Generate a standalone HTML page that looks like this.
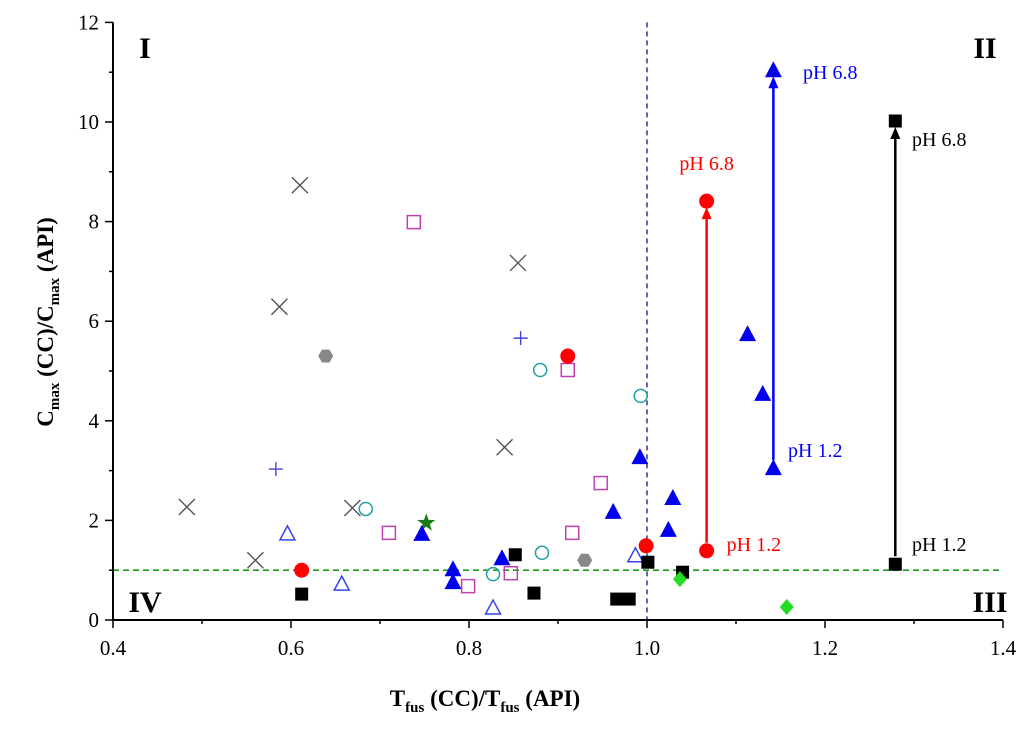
<!DOCTYPE html>
<html><head><meta charset="utf-8"><style>
body{margin:0;background:#fff}
svg text{font-family:"Liberation Serif",serif}
</style></head><body>
<svg id="c" width="1024" height="732"></svg>
<script>
const xTicks=[0.4,0.6,0.8,1.0,1.2,1.4];
const xTickLabels=["0.4","0.6","0.8","1.0","1.2","1.4"];
const yTicks=[0,2,4,6,8,10,12];
const crossX=[0.483,0.587,0.61,0.669,0.56,0.855,0.84];
const crossY=[2.27,6.29,8.73,2.25,1.2,7.17,3.47];
const plusX=[0.583,0.858];
const plusY=[3.03,5.66];
const hexX=[0.639,0.93];
const hexY=[5.3,1.2];
const openSqX=[0.738,0.71,0.911,0.948,0.916,0.799,0.847];
const openSqY=[7.99,1.75,5.02,2.75,1.75,0.68,0.94];
const openCircX=[0.684,0.88,0.993,0.882,0.827];
const openCircY=[2.23,5.02,4.5,1.35,0.92];
const openTriX=[0.596,0.657,0.827,0.987];
const openTriY=[1.73,0.72,0.24,1.29];
const starX=[0.752];
const starY=[1.95];
const redX=[0.612,0.911,0.999,1.067,1.067];
const redY=[1.0,5.3,1.49,1.39,8.41];
const triX=[0.747,0.782,0.782,0.837,0.962,0.992,1.029,1.024,1.113,1.130,1.142,1.142];
const triY=[1.73,1.02,0.76,1.24,2.17,3.27,2.45,1.81,5.74,4.54,3.05,11.04];
const sqX=[0.612,0.852,0.873,0.966,0.98,1.001,1.04,1.279,1.279];
const sqY=[0.52,1.31,0.54,0.42,0.42,1.16,0.96,10.02,1.12];
const diaX=[1.037,1.157];
const diaY=[0.82,0.26];
const arrows=[{x:1.067,y0:1.39,y1:8.41,c:"#f00"},{x:1.142,y0:3.05,y1:11.04,c:"#00f"},{x:1.279,y0:1.12,y1:10.02,c:"#000"}];

const X0=113,XS=890,Y0=620,YS=49.8;
const sx=v=>X0+(v-0.4)*XS, sy=v=>Y0-v*YS;
const svg=document.getElementById('c');
const NS="http://www.w3.org/2000/svg";
function mk(tag,a,parent){const e=document.createElementNS(NS,tag);for(const k in a)e.setAttribute(k,a[k]);(parent||svg).appendChild(e);return e;}
function txt(x,y,s,a){const t=mk('text',Object.assign({x:x,y:y},a));t.innerHTML=s;return t;}

let l=mk('line',{x1:X0,x2:sx(1.4),y1:sy(1),y2:sy(1),stroke:"#1a9a1a","stroke-width":1.6,"stroke-dasharray":"6,4"});


l=mk('line',{x1:sx(1),x2:sx(1),y1:sy(12),y2:Y0,stroke:"#22229a","stroke-width":1.4,"stroke-dasharray":"5,4"});



const ax=mk('g',{stroke:"#000","stroke-width":2});


mk('line',{x1:X0,x2:X0,y1:sy(12),y2:Y0},ax);
mk('line',{x1:X0,x2:sx(1.4),y1:Y0,y2:Y0},ax);
for(let i=0;i<12;i++){mk('line',{x1:X0,x2:X0-(i%2?4:8),y1:sy(i),y2:sy(i),"stroke-width":1.5},ax);}
mk('line',{x1:X0,x2:X0-8,y1:sy(12),y2:sy(12),"stroke-width":1.5},ax);
for(let v=0.4;v<=1.401;v+=0.1){const major=Math.round(v*10)%2===0;mk('line',{x1:sx(v),x2:sx(v),y1:Y0,y2:Y0+(major?8:4),"stroke-width":1.5},ax);}
yTicks.forEach(v=>{const t=txt(X0-14,sy(v)+7,String(v),{"font-size":21,"text-anchor":"end"});

});
xTicks.forEach((v,i)=>{const t=txt(sx(v),Y0+35,xTickLabels[i],{"font-size":21,"text-anchor":"middle"});

});
let t=txt(0,0,'T<tspan font-size="15" dy="6">fus</tspan><tspan dy="-6"> (CC)/T</tspan><tspan font-size="15" dy="6">fus</tspan><tspan dy="-6"> (API)</tspan>',{x:485,y:706,"font-size":23,"font-weight":"bold","text-anchor":"middle"});


t=txt(0,0,'C<tspan font-size="15" dy="6">max</tspan><tspan dy="-6"> (CC)/C</tspan><tspan font-size="15" dy="6">max</tspan><tspan dy="-6"> (API)</tspan>',{x:0,y:0,"font-size":23,"font-weight":"bold","text-anchor":"middle",transform:"translate(53,322) rotate(-90)"});


[["I",145,58],["II",985,58],["IV",145,612],["III",990,612]].forEach(q=>{const e=txt(q[1],q[2],q[0],{"font-size":30,"font-weight":"bold","text-anchor":"middle"});

});

arrows.forEach(a=>{const g=mk('g',{});


const x=sx(a.x),ya=sy(a.y0)-8,yb=sy(a.y1)+6;
mk('line',{x1:x,x2:x,y1:ya,y2:yb+8,stroke:a.c,"stroke-width":2.5},g);
mk('polygon',{points:`${x},${yb} ${x-5},${yb+12} ${x+5},${yb+12}`,fill:a.c},g);});
[["pH 6.8",sx(1.067),170,"#f00","middle"],["pH 1.2",sx(1.067)+20,551,"#f00","start"],["pH 6.8",803,79,"#00f","start"],["pH 1.2",788,457,"#00f","start"],["pH 6.8",912,146,"#000","start"],["pH 1.2",912,551,"#000","start"]].forEach(p=>{const e=txt(p[1],p[2],p[0],{"font-size":20,fill:p[3],"text-anchor":p[4]});

});

function series(xs,ys,name,draw){const g=mk('g',{});


xs.forEach((v,i)=>draw(g,sx(v),sy(ys[i])));}
series(crossX,crossY,'series-cross',(g,x,y)=>{mk('path',{d:`M${x-8},${y-8}L${x+8},${y+8}M${x-8},${y+8}L${x+8},${y-8}`,stroke:"#555","stroke-width":1.4},g);});
series(plusX,plusY,'series-plus',(g,x,y)=>{mk('path',{d:`M${x-7},${y}H${x+7}M${x},${y-7}V${y+7}`,stroke:"#4444dd","stroke-width":1.4},g);});
series(hexX,hexY,'series-hexagon',(g,x,y)=>{let p=[];for(let k=0;k<6;k++){const a=Math.PI/3*k;p.push((x+7.5*Math.cos(a))+','+(y+7.5*Math.sin(a)));}mk('polygon',{points:p.join(' '),fill:"#888"},g);});
series(openSqX,openSqY,'series-open-square',(g,x,y)=>{mk('rect',{x:x-6.5,y:y-6.5,width:13,height:13,fill:"none",stroke:"#c040b0","stroke-width":1.5},g);});
series(openCircX,openCircY,'series-open-circle',(g,x,y)=>{mk('circle',{cx:x,cy:y,r:6.5,fill:"none",stroke:"#20a0a0","stroke-width":1.5},g);});
series(openTriX,openTriY,'series-open-triangle',(g,x,y)=>{mk('polygon',{points:`${x},${y-8} ${x-7.5},${y+6} ${x+7.5},${y+6}`,fill:"none",stroke:"#3344ee","stroke-width":1.5},g);});
series(starX,starY,'series-star',(g,x,y)=>{let p=[];for(let k=0;k<10;k++){const r=k%2?3.8:9.5,a=-Math.PI/2+Math.PI/5*k;p.push((x+r*Math.cos(a))+','+(y+r*Math.sin(a)));}mk('polygon',{points:p.join(' '),fill:"#1a7a1a"},g);});
series(redX,redY,'series-red-circle',(g,x,y)=>{mk('circle',{cx:x,cy:y,r:7.5,fill:"#f00"},g);});
series(triX,triY,'series-filled-triangle',(g,x,y)=>{mk('polygon',{points:`${x},${y-9} ${x-8.5},${y+7} ${x+8.5},${y+7}`,fill:"#0000ee"},g);});
series(sqX,sqY,'series-filled-square',(g,x,y)=>{mk('rect',{x:x-6.5,y:y-6.5,width:13,height:13,fill:"#000"},g);});
series(diaX,diaY,'series-diamond',(g,x,y)=>{mk('polygon',{points:`${x},${y-8} ${x+7},${y} ${x},${y+8} ${x-7},${y}`,fill:"#22dd22"},g);});
</script>
</body></html>
